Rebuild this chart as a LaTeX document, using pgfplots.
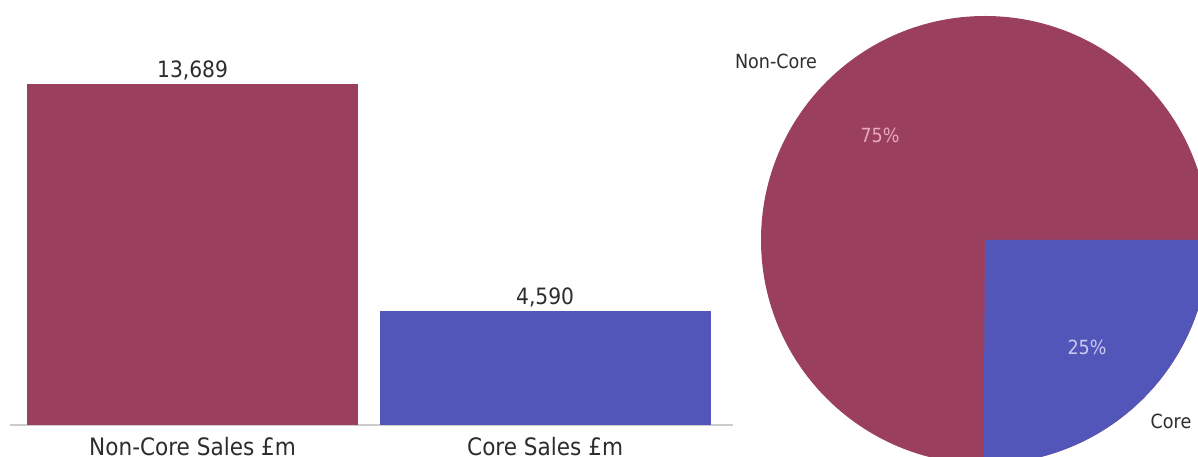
\documentclass[border=0pt]{standalone}
\usepackage{pgfplots}
\usepackage{pgfplotstable}
\pgfplotsset{compat=1.18}
\usepackage{fontspec}
\setmainfont{DejaVu Sans Condensed}
\definecolor{noncore}{RGB}{154,64,94}
\definecolor{core}{RGB}{83,86,185}
\definecolor{txt}{RGB}{45,45,45}
\definecolor{pinklab}{RGB}{232,168,194}
\definecolor{bluelab}{RGB}{200,200,240}
\pgfplotstableread{
idx value
0 13689
1 4590
}\salesdata
\begin{document}
\begin{tikzpicture}[x=1pt,y=1pt]
\useasboundingbox (0,0) rectangle (1198,457);
\clip (0,0) rectangle (1198,457);
% ---------------- bar chart ----------------
\begin{axis}[
  at={(10pt,32pt)}, anchor=south west,
  scale only axis, width=723pt, height=341pt,
  xmin=-0.518, xmax=1.533, ymin=0, ymax=13689,
  clip=false,
  axis x line*=bottom, hide y axis,
  x axis line style={-, draw=black!20, line width=1.3pt},
  xtick={0,1}, xticklabels={Non-Core Sales £m, Core Sales £m},
  major tick length=0pt,
  xticklabel style={anchor=base, yshift=-30.5pt, font=\fontsize{24}{26}\selectfont, text=txt},
  /pgf/number format/.cd, fixed, precision=0, 1000 sep={,}, assume math mode=true,
  /pgfplots/.cd,
  nodes near coords,
  nodes near coords style={anchor=base, yshift=6pt, font=\fontsize{22.5}{24}\selectfont, text=txt},
]
\addplot[ybar, bar width=331pt, bar shift=0pt, fill=noncore, draw=none] coordinates {(0,13689)};
\addplot[ybar, bar width=331pt, bar shift=0pt, fill=core, draw=none] coordinates {(1,4590)};
\end{axis}
% ---------------- pie chart ----------------
\pgfplotstablegetelem{0}{value}\of\salesdata \let\vA\pgfplotsretval
\pgfplotstablegetelem{1}{value}\of\salesdata \let\vB\pgfplotsretval
\pgfmathsetmacro\angA{360/(1+\vB/\vA)}
\pgfmathsetmacro\cx{224*cos(\angA)}
\pgfmathsetmacro\cy{224*sin(\angA)}
\begin{axis}[
  at={(985pt,217pt)}, anchor=center,
  scale only axis, width=448pt, height=448pt,
  xmin=-224, xmax=224, ymin=-224, ymax=224,
  hide axis, clip=false,
]
\fill[noncore] (axis cs:0,0) circle[radius=224pt];
\fill[core] (axis cs:0,0) -- (axis cs:\cx,\cy) arc[start angle=\angA, end angle=360, radius=224pt] -- cycle;
\node[text=pinklab, font=\fontsize{19.5}{21}\selectfont] at (axis cs:-105,105) {75\%};
\node[text=bluelab, font=\fontsize{19.5}{21}\selectfont] at (axis cs:102,-107) {25\%};
\node[text=txt, font=\fontsize{19.5}{21}\selectfont] at (axis cs:-209,179) {Non-Core};
\node[text=txt, font=\fontsize{19.5}{21}\selectfont] at (axis cs:186,-181) {Core};
\end{axis}
\end{tikzpicture}
\end{document}
